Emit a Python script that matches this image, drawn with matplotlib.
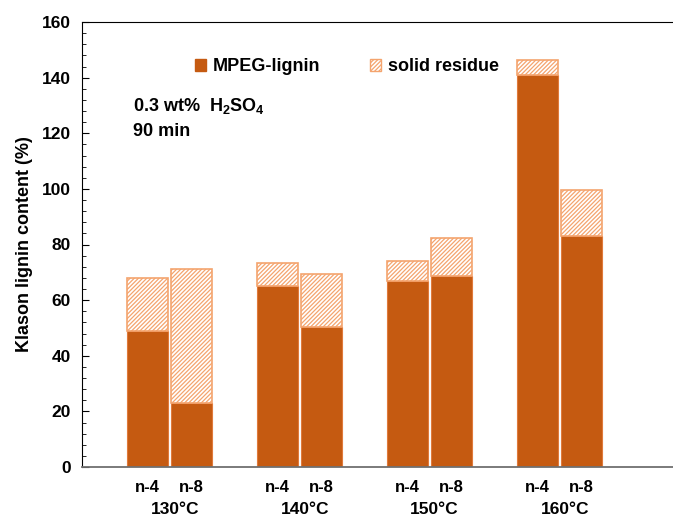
import numpy as np
from matplotlib import pyplot as plt
from matplotlib.patches import Patch
from matplotlib.ticker import MultipleLocator

plt.rcParams.update({'font.family': 'Liberation Sans', 'font.weight': 'bold',
                     'font.size': 11, 'hatch.linewidth': 0.9,
                     'mathtext.fontset': 'custom', 'mathtext.rm': 'Liberation Sans:bold',
                     'mathtext.default': 'rm'})

TEMPS = ["130°C", "140°C", "150°C", "160°C"]
SAMPLES = ["n-4", "n-8"]

# MPEG-lignin part and total (lignin + solid residue), n-4 / n-8 per temperature
MPEG_N4 = [49, 65, 67, 141]
MPEG_N8 = [23, 50.5, 68.8, 83]
TOTAL_N4 = [67.8, 73.3, 74.2, 146.5]
TOTAL_N8 = [71.2, 69.3, 82.4, 99.5]

DARK = "#C55A11"
LIGHT = "#F4A46E"

fig = plt.figure(figsize=(6.73, 5.16), dpi=100)
ax = fig.add_axes([82 / 673, (516 - 467) / 516, 1 - 82 / 673 + 0.02, 445 / 516])

x = np.arange(len(TEMPS))
w = 0.31
off = 0.17
for dx, mpeg, total in [(-off, MPEG_N4, TOTAL_N4), (off, MPEG_N8, TOTAL_N8)]:
    mpeg = np.array(mpeg)
    resid = np.array(total) - mpeg
    ax.bar(x + dx, mpeg, w, color=DARK, edgecolor="#E07A3A", linewidth=0.8)
    ax.bar(x + dx, resid, w, bottom=mpeg, facecolor="white",
           edgecolor=LIGHT, hatch="////////", linewidth=1.2)

ax.set_xlim(-0.673, 3.977)
ax.set_ylim(0, 160)
ax.yaxis.set_major_locator(MultipleLocator(20))
ax.yaxis.set_minor_locator(MultipleLocator(4))
ax.tick_params(axis="y", which="both", direction="in", labelsize=12.5, pad=8)
ax.tick_params(axis="y", which="major", length=5)
ax.tick_params(axis="y", which="minor", length=3)
ax.spines["right"].set_visible(False)
ax.spines["bottom"].set_color("#707070")
ax.spines["bottom"].set_linewidth(1.3)

tick_pos = np.concatenate([x - off, x + off])
tick_lab = [SAMPLES[0]] * len(TEMPS) + [SAMPLES[1]] * len(TEMPS)
ax.set_xticks(tick_pos)
ax.set_xticklabels(tick_lab)
ax.tick_params(axis="x", length=0, pad=9, labelsize=12)
for xi, t in zip(x, TEMPS):
    ax.text(xi + 0.04, -0.095, t, transform=ax.get_xaxis_transform(),
            ha="center", va="center", fontsize=12.5)

ax.set_ylabel("Klason lignin content (%)", fontsize=13, fontweight="bold", labelpad=6)

ax.text(0.085, 0.784, "0.3 wt%  H$_2$SO$_4$\n90 min", transform=ax.transAxes,
        ha="left", va="center", fontsize=13, linespacing=1.5)

handles = [Patch(facecolor=DARK, edgecolor=DARK, label="MPEG-lignin"),
           Patch(facecolor="white", edgecolor=LIGHT, hatch="////////", label="solid residue")]
ax.legend(handles=handles, ncol=2, frameon=False, loc="upper left",
          bbox_to_anchor=(0.16, 0.955), handlelength=0.6, handleheight=0.6,
          handletextpad=0.4, columnspacing=2.75, fontsize=13)

plt.savefig("out.png", dpi=100)
